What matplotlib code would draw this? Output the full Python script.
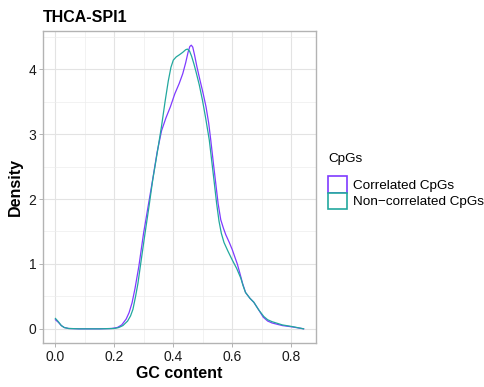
import matplotlib.pyplot as plt
from matplotlib.patches import Patch
from matplotlib.ticker import MultipleLocator

plt.rcParams['font.family'] = ['Liberation Sans', 'DejaVu Sans']

# density curves (GC content vs density), one per CpG group
gc_corr = [0.0, 0.01, 0.02, 0.03, 0.045, 0.08, 0.15, 0.19, 0.21, 0.225, 0.24, 0.25,
           0.26, 0.27, 0.283, 0.299, 0.315, 0.33, 0.345, 0.36, 0.375, 0.39, 0.405,
           0.42, 0.432, 0.442, 0.45, 0.456, 0.461, 0.466, 0.472, 0.48, 0.49, 0.5,
           0.511, 0.52, 0.527, 0.536, 0.544, 0.552, 0.561, 0.57, 0.578, 0.59, 0.6,
           0.61, 0.617, 0.625, 0.635, 0.645, 0.66, 0.673, 0.69, 0.705, 0.72, 0.735,
           0.77, 0.803, 0.842]
dens_corr = [0.14, 0.10, 0.05, 0.02, 0.005, 0.0, 0.0, 0.005, 0.02, 0.06, 0.15, 0.25,
             0.40, 0.62, 0.96, 1.47, 1.9, 2.3, 2.72, 3.05, 3.25, 3.42, 3.62,
             3.78, 3.93, 4.1, 4.26, 4.35, 4.37, 4.34, 4.22, 4.04, 3.84, 3.65,
             3.42, 3.17, 2.91, 2.55, 2.24, 1.93, 1.68, 1.55, 1.45, 1.33, 1.22,
             1.09, 1.0, 0.87, 0.7, 0.56, 0.47, 0.41, 0.29, 0.18, 0.12, 0.09,
             0.05, 0.03, 0.0]

gc_noncorr = [0.0, 0.01, 0.02, 0.03, 0.045, 0.08, 0.15, 0.2, 0.215, 0.229, 0.245, 0.255,
              0.263, 0.272, 0.28, 0.288, 0.304, 0.318, 0.33, 0.345, 0.36, 0.372, 0.383,
              0.392, 0.4, 0.41, 0.42, 0.432, 0.442, 0.448, 0.455, 0.462, 0.47, 0.477,
              0.488, 0.499, 0.51, 0.522, 0.53, 0.539, 0.547, 0.555, 0.563, 0.572,
              0.585, 0.6, 0.615, 0.629, 0.637, 0.645, 0.66, 0.673, 0.69, 0.707, 0.72,
              0.735, 0.77, 0.803, 0.842]
dens_noncorr = [0.16, 0.11, 0.05, 0.02, 0.005, 0.0, 0.0, 0.005, 0.02, 0.05, 0.12, 0.2,
                0.3, 0.5, 0.7, 0.96, 1.47, 1.9, 2.29, 2.7, 3.12, 3.5, 3.82,
                4.03, 4.14, 4.19, 4.22, 4.26, 4.30, 4.31, 4.28, 4.2, 4.08, 3.96,
                3.76, 3.52, 3.24, 2.91, 2.6, 2.25, 1.93, 1.66, 1.47, 1.33,
                1.2, 1.06, 0.93, 0.78, 0.66, 0.56, 0.47, 0.41, 0.29, 0.19, 0.14,
                0.11, 0.06, 0.035, 0.0]

groups = ["Correlated CpGs", "Non\u2212correlated CpGs"]
colors = ["#7F3BFF", "#22A89E"]

fig = plt.figure(figsize=(4.85, 3.87), dpi=100)
ax = fig.add_axes([43 / 485, 44 / 387, 273 / 485, 312 / 387])

ax.plot(gc_corr, dens_corr, color=colors[0], lw=0.9, solid_joinstyle='round')
ax.plot(gc_noncorr, dens_noncorr, color=colors[1], lw=0.9, solid_joinstyle='round')

xmax = max(max(gc_corr), max(gc_noncorr))
ymax = max(max(dens_corr), max(dens_noncorr))
ax.set_xlim(-0.05 * xmax, 1.05 * xmax)
ax.set_ylim(-0.05 * ymax, 1.05 * ymax)

ax.xaxis.set_major_locator(MultipleLocator(0.2))
ax.xaxis.set_minor_locator(MultipleLocator(0.1))
ax.yaxis.set_major_locator(MultipleLocator(1))
ax.yaxis.set_minor_locator(MultipleLocator(0.5))
ax.set_xticks([0, 0.2, 0.4, 0.6, 0.8])
ax.set_xticklabels(["0.0", "0.2", "0.4", "0.6", "0.8"])

ax.grid(which='major', color='#E3E3E3', lw=0.8)
ax.grid(which='minor', color='#EDEDED', lw=0.5)
ax.set_axisbelow(True)
for s in ax.spines.values():
    s.set_color('#B3B3B3')
    s.set_linewidth(1.0)
ax.tick_params(which='major', length=2.8, width=0.7, color='#B3B3B3',
               labelsize=10, labelcolor='#1A1A1A', pad=2)
ax.tick_params(which='minor', length=0)

ax.set_xlabel("GC content", fontsize=11.5, fontweight='bold', labelpad=2)
ax.set_ylabel("Density", fontsize=11.5, fontweight='bold', labelpad=4)

fig.text(43 / 485, 1 - 22 / 387, "THCA-SPI1", fontsize=11.5, fontweight='bold',
         va='baseline', ha='left')

handles = [Patch(facecolor='white', edgecolor=c, lw=1.2) for c in colors]
leg = fig.legend(handles, groups, title="CpGs", loc='upper left',
                 bbox_to_anchor=(323 / 485, 1 - 148 / 387), frameon=False,
                 fontsize=9.7, title_fontsize=9.7, handlelength=1.4, handleheight=1.48,
                 handletextpad=0.4, labelspacing=0.0, borderaxespad=0)
leg._legend_box.align = 'left'
leg._legend_box.sep = 8

fig.savefig("out.png", dpi=100)
